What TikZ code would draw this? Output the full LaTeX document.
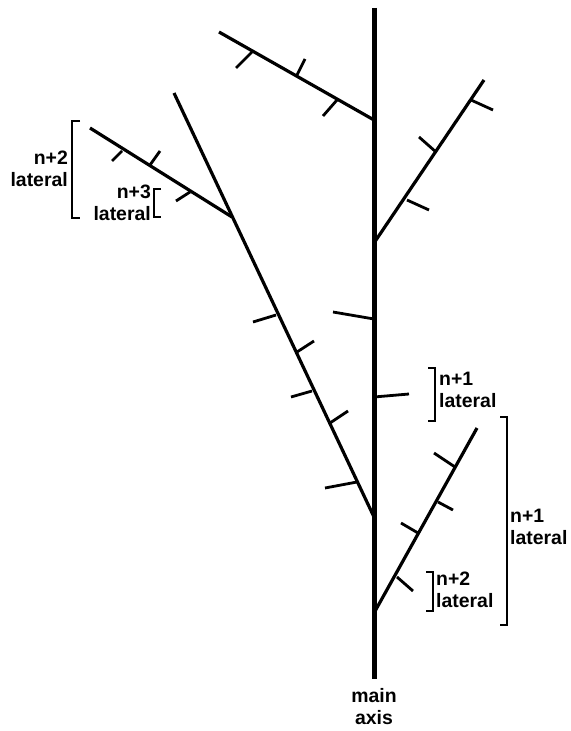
\documentclass[tikz,border=0pt]{standalone}
\usepackage{fontspec}
\setmainfont{Liberation Sans}
\begin{document}
\begin{tikzpicture}[x=1bp,y=-1bp,
  axisline/.style={line width=5bp},
  branchline/.style={line width=3.2bp},
  tickline/.style={line width=2.8bp},
  bracketline/.style={line width=1.6bp},
  lbl/.style={font=\fontsize{19.5}{22.5}\selectfont\bfseries, align=left, inner sep=0pt},
  lblr/.style={font=\fontsize{19.5}{22.5}\selectfont\bfseries, align=right, inner sep=0pt},
  lblc/.style={font=\fontsize{19.5}{22.5}\selectfont\bfseries, align=center, inner sep=0pt}]
\useasboundingbox (0,0) rectangle (571,731);
% main axis
\coordinate (top) at (374,8);
\coordinate (bot) at (374,679);
\draw[axisline] (top) -- (bot);
% junctions and branch ends
\coordinate (J1) at (374,120); \coordinate (TL) at (219,32);
\coordinate (J2) at (374,243); \coordinate (RU) at (484,80);
\coordinate (J3) at (374,517); \coordinate (LL) at (174,93);
\coordinate (J4) at (374,613); \coordinate (LR) at (477,428);
\coordinate (S0) at (232,217); \coordinate (S1) at (90,128);
\draw[branchline] (J1) -- (TL);
\draw[branchline] (J2) -- (RU);
\draw[branchline] (J3) -- (LL);
\draw[branchline] (J4) -- (LR);
\draw[branchline] (S0) -- (S1);
% ticks on top-left branch
\coordinate (a1) at (252,52); \coordinate (a1e) at (236,68);
\coordinate (a2) at (297,75); \coordinate (a2e) at (305,59);
\coordinate (a3) at (337,100); \coordinate (a3e) at (323,116);
\draw[tickline] (a1) -- (a1e);
\draw[tickline] (a2) -- (a2e);
\draw[tickline] (a3) -- (a3e);
% ticks on right-upper branch
\coordinate (b1) at (471,100); \coordinate (b1e) at (493,110);
\coordinate (b2) at (436,152); \coordinate (b2e) at (419,137);
\coordinate (b3) at (407,200); \coordinate (b3e) at (429,210);
\draw[tickline] (b1) -- (b1e);
\draw[tickline] (b2) -- (b2e);
\draw[tickline] (b3) -- (b3e);
% ticks on main axis
\coordinate (m1) at (374,319); \coordinate (m1e) at (333,312);
\coordinate (m2) at (374,397); \coordinate (m2e) at (409,394);
\draw[tickline] (m1) -- (m1e);
\draw[tickline] (m2) -- (m2e);
% ticks on long left branch
\coordinate (c1) at (276,315); \coordinate (c1e) at (253,322);
\coordinate (c2) at (297,352); \coordinate (c2e) at (314,341);
\coordinate (c3) at (312,391); \coordinate (c3e) at (291,397);
\coordinate (c4) at (330,423); \coordinate (c4e) at (348,411);
\coordinate (c5) at (357,482); \coordinate (c5e) at (325,488);
\draw[tickline] (c1) -- (c1e);
\draw[tickline] (c2) -- (c2e);
\draw[tickline] (c3) -- (c3e);
\draw[tickline] (c4) -- (c4e);
\draw[tickline] (c5) -- (c5e);
% ticks on side branch
\coordinate (d1) at (122,151); \coordinate (d1e) at (112,161);
\coordinate (d2) at (150,165); \coordinate (d2e) at (160,151);
\coordinate (d3) at (190,192); \coordinate (d3e) at (176,201);
\draw[tickline] (d1) -- (d1e);
\draw[tickline] (d2) -- (d2e);
\draw[tickline] (d3) -- (d3e);
% ticks on lower right branch
\coordinate (e1) at (455,467); \coordinate (e1e) at (434,453);
\coordinate (e2) at (438,502); \coordinate (e2e) at (453,510);
\coordinate (e3) at (418,533); \coordinate (e3e) at (401,523);
\coordinate (e4) at (397,577); \coordinate (e4e) at (413,591);
\draw[tickline] (e1) -- (e1e);
\draw[tickline] (e2) -- (e2e);
\draw[tickline] (e3) -- (e3e);
\draw[tickline] (e4) -- (e4e);
% brackets
\draw[bracketline] (80,121) -- (72,121) -- (72,218) -- (80,218);
\draw[bracketline] (161,189) -- (154,189) -- (154,217) -- (161,217);
\draw[bracketline] (428,368) -- (435,368) -- (435,421) -- (428,421);
\draw[bracketline] (500,417) -- (507,417) -- (507,625) -- (500,625);
\draw[bracketline] (426,572) -- (433,572) -- (433,611) -- (426,611);
% labels
\node[lblr, anchor=east] (l1) at (68,169) {n+2\\lateral};
\node[lblr, anchor=east] (l2) at (151,203) {n+3\\lateral};
\node[lbl, anchor=west] (l3) at (439,390) {n+1\\lateral};
\node[lbl, anchor=west] (l4) at (510,527) {n+1\\lateral};
\node[lbl, anchor=west] (l5) at (436,590) {n+2\\lateral};
\node[lblc, anchor=north] (l6) at (374,688) {main\\axis};
\end{tikzpicture}
\end{document}
